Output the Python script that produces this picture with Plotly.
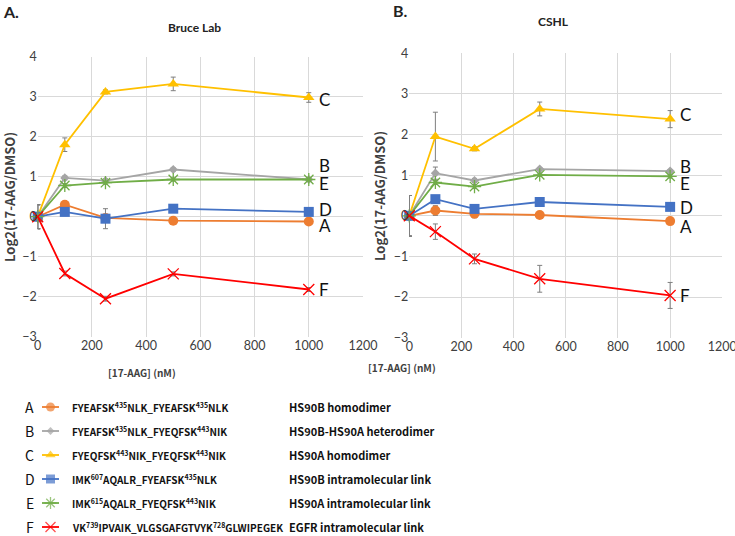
import plotly.graph_objects as go

# 17-AAG concentrations (nM)
conc = [0, 100, 250, 500, 1000]

letters = ["A", "B", "C", "D", "E", "F"]
peptides = [
    "FYEAFSK<sup>435</sup>NLK_FYEAFSK<sup>435</sup>NLK",
    "FYEAFSK<sup>435</sup>NLK_FYEQFSK<sup>443</sup>NIK",
    "FYEQFSK<sup>443</sup>NIK_FYEQFSK<sup>443</sup>NIK",
    "IMK<sup>607</sup>AQALR_FYEAFSK<sup>435</sup>NLK",
    "IMK<sup>615</sup>AQALR_FYEQFSK<sup>443</sup>NIK",
    "VK<sup>739</sup>IPVAIK_VLGSGAFGTVYK<sup>728</sup>GLWIPEGEK",
]
descriptions = [
    "HS90B homodimer",
    "HS90B-HS90A heterodimer",
    "HS90A homodimer",
    "HS90B intramolecular link",
    "HS90A intramolecular link",
    "EGFR intramolecular link",
]

# Bruce Lab (panel A)
bruce_vals = {
    "A": [0, 0.30, -0.03, -0.10, -0.12],
    "B": [0, 0.97, 0.90, 1.18, 0.93],
    "C": [0, 1.80, 3.12, 3.32, 2.98],
    "D": [0, 0.12, -0.05, 0.20, 0.12],
    "E": [0, 0.78, 0.85, 0.93, 0.93],
    "F": [0, -1.42, -2.05, -1.43, -1.82],
}
bruce_err = {
    "A": [0.30, 0.05, 0.05, 0.03, 0.03],
    "B": [0.30, 0.05, 0.05, 0.04, 0.04],
    "C": [0.30, 0.17, 0.05, 0.17, 0.12],
    "D": [0.30, 0.05, 0.25, 0.04, 0.04],
    "E": [0.30, 0.05, 0.04, 0.04, 0.04],
    "F": [0.30, 0.06, 0.06, 0.05, 0.05],
}

# CSHL (panel B)
cshl_vals = {
    "A": [0, 0.13, 0.05, 0.02, -0.13],
    "B": [0, 1.05, 0.87, 1.15, 1.10],
    "C": [0, 1.95, 1.65, 2.63, 2.38],
    "D": [0, 0.41, 0.17, 0.34, 0.22],
    "E": [0, 0.82, 0.72, 1.01, 0.97],
    "F": [0, -0.39, -1.06, -1.55, -1.96],
}
cshl_err = {
    "A": [0.50, 0.12, 0.10, 0.03, 0.03],
    "B": [0.50, 0.15, 0.05, 0.04, 0.04],
    "C": [0.50, 0.60, 0.05, 0.17, 0.21],
    "D": [0.50, 0.05, 0.05, 0.04, 0.04],
    "E": [0.50, 0.05, 0.05, 0.04, 0.04],
    "F": [0.50, 0.19, 0.12, 0.33, 0.32],
}

# label positions next to the 1000 nM points
bruce_label_y = {"C": 2.94, "B": 1.27, "E": 0.82, "D": 0.19, "A": -0.22, "F": -1.83}
cshl_label_y = {"C": 2.50, "B": 1.21, "E": 0.79, "D": 0.20, "A": -0.26, "F": -1.96}

styles = {
    "A": dict(color="#ED7D31", symbol="circle", size=10),
    "B": dict(color="#A5A5A5", symbol="diamond", size=7),
    "C": dict(color="#FFC000", symbol="triangle-up", size=10),
    "D": dict(color="#4472C4", symbol="square", size=10),
    "E": dict(color="#70AD47", symbol="asterisk-open", size=11),
    "F": dict(color="#FF0000", symbol="x-thin-open", size=11),
}

FONT = "Lato, 'Liberation Sans', sans-serif"
NARROW = "'Noto Sans CJK SC', Lato, sans-serif"
TXT = "#404040"

W, H = 735, 536


def px(x):
    return x / W


def py(y):
    return 1 - y / H


fig = go.Figure()


def marker_for(s):
    m = dict(symbol=s["symbol"], size=s["size"], color=s["color"])
    if s["symbol"].endswith("open"):
        m["line"] = dict(color=s["color"], width=1.3)
    else:
        m["line"] = dict(width=0)
    return m


for vals, errs, xa, ya in [(bruce_vals, bruce_err, "x", "y"), (cshl_vals, cshl_err, "x2", "y2")]:
    for k in letters:
        s = styles[k]
        fig.add_trace(go.Scatter(
            x=conc, y=vals[k], xaxis=xa, yaxis=ya, mode="lines+markers",
            line=dict(color=s["color"], width=1.8),
            marker=marker_for(s),
            error_y=dict(type="data", array=errs[k], color="#7F7F7F", thickness=1, width=2.5),
            showlegend=False, cliponaxis=False,
        ))

# legend swatches (own hidden axes)
for i, k in enumerate(letters):
    s = styles[k]
    fig.add_trace(go.Scatter(
        x=[0, 1, 2], y=[i, i, i], xaxis="x3", yaxis="y3", mode="lines+markers",
        line=dict(color=s["color"], width=1.8),
        marker=dict(marker_for(s), size=[0, s["size"] - 1, 0]),
        showlegend=False, cliponaxis=False,
    ))

axis_common = dict(
    range=[0, 1200], dtick=200, showgrid=True, gridcolor="#D9D9D9", gridwidth=1, automargin=False,
    zeroline=False, showline=False, ticks="", ticklabeloverflow="allow",
    tickfont=dict(size=12.5, color=TXT, family=FONT),
)
yaxis_common = dict(
    range=[-3, 4], dtick=1, showgrid=True, gridcolor="#D9D9D9", gridwidth=1, automargin=False,
    zeroline=False, showline=False, ticks="", tickfont=dict(size=12.5, color=TXT, family=FONT),
)

fig.update_layout(
    width=W, height=H,
    margin=dict(l=0, r=0, t=0, b=0, autoexpand=False),
    paper_bgcolor="white", plot_bgcolor="white",
    font=dict(family=FONT, color=TXT),
    xaxis=dict(axis_common, domain=[px(37.7), px(363)], anchor="y"),
    yaxis=dict(yaxis_common, domain=[py(336.7), py(56.7)], anchor="x"),
    xaxis2=dict(axis_common, domain=[px(409.3), px(722.3)], anchor="y2"),
    yaxis2=dict(yaxis_common, domain=[py(337.7), py(53.3)], anchor="x2"),
    xaxis3=dict(domain=[px(42), px(59)], range=[0, 2], visible=False, automargin=False, anchor="y3"),
    yaxis3=dict(domain=[py(536), py(400)], range=[5 + 9 / 24, -7 / 24], visible=False,
                automargin=False, anchor="x3"),
)

ann = []


def paper(x, y, text, size, bold=False, xanchor="center", angle=0, color=TXT, family=FONT):
    ann.append(dict(
        x=px(x), y=py(y), xref="paper", yref="paper", text=f"<b>{text}</b>" if bold else text,
        showarrow=False, xanchor=xanchor, yanchor="middle", textangle=angle,
        font=dict(size=size, color=color, family=family),
    ))


paper(1, 11, "A.", 16, bold=True, xanchor="left", color="#222222")
paper(194, 27, "Bruce Lab", 12, bold=True, color="#222222")
paper(391, 10, "B.", 16, bold=True, xanchor="left", color="#222222")
paper(553, 21, "CSHL", 12, bold=True, color="#222222")
paper(9, 197, "Log2(17-AAG/DMSO)", 13, bold=True, angle=-90, family=NARROW)
paper(379, 196, "Log2(17-AAG/DMSO)", 13, bold=True, angle=-90, family=NARROW)
paper(142, 372, "[17-AAG] (nM)", 10, bold=True, family=NARROW)
paper(402, 367, "[17-AAG] (nM)", 10, bold=True, family=NARROW)

for k in letters:
    ann.append(dict(x=1030, y=bruce_label_y[k], xref="x", yref="y", text=k, showarrow=False,
                    xanchor="left", font=dict(size=17, color="#111111", family=FONT)))
    ann.append(dict(x=1030, y=cshl_label_y[k], xref="x2", yref="y2", text=k, showarrow=False,
                    xanchor="left", font=dict(size=17, color="#111111", family=FONT)))

for i, k in enumerate(letters):
    ann.append(dict(x=px(30), y=i, xref="paper", yref="y3", text=k, showarrow=False, xanchor="center",
                    font=dict(size=14, color="#111111", family=NARROW)))
    ann.append(dict(x=px(70), y=i, xref="paper", yref="y3", text=f"<b>{peptides[i]}</b>", showarrow=False,
                    xanchor="left", font=dict(size=10, color="#111111", family=NARROW)))
    ann.append(dict(x=px(287), y=i, xref="paper", yref="y3", text=f"<b>{descriptions[i]}</b>", showarrow=False,
                    xanchor="left", font=dict(size=11, color="#111111", family=NARROW)))

fig.update_layout(annotations=ann)
fig.write_html("out.html", config={"displayModeBar": False},
               post_script="document.body.style.margin='0';document.body.style.overflow='hidden';")
